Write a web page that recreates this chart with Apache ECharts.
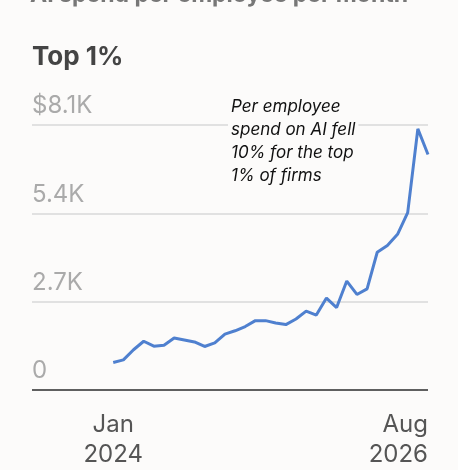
<!DOCTYPE html>
<html><head><meta charset="utf-8">
<script src="https://cdn.jsdelivr.net/npm/echarts@6/dist/echarts.min.js"></script>
<style>html,body{margin:0;padding:0;background:#fcfbfa}#c{width:458px;height:470px}</style>
</head><body><div id="c"></div>
<script>
const months = ['2024-01','2024-02','2024-03','2024-04','2024-05','2024-06','2024-07','2024-08','2024-09','2024-10','2024-11','2024-12',
'2025-01','2025-02','2025-03','2025-04','2025-05','2025-06','2025-07','2025-08','2025-09','2025-10','2025-11','2025-12',
'2026-01','2026-02','2026-03','2026-04','2026-05','2026-06','2026-07','2026-08'];
const spend = [0.84,0.92,1.23,1.49,1.34,1.37,1.59,1.53,1.47,1.33,1.44,1.71,1.81,1.94,2.12,2.12,2.05,2.00,2.17,2.41,2.29,2.81,2.52,3.33,2.92,3.09,4.21,4.42,4.76,5.42,7.98,7.20];
const yTicks = {0:'0',2.7:'2.7K',5.4:'5.4K',8.1:'$8.1K'};
const xTicks = {0:'Jan\n2024',31:'Aug\n2026'};
const font = 'Inter, Liberation Sans, Arial, sans-serif';
const chart = echarts.init(document.getElementById('c'));
chart.setOption({
  backgroundColor:'#fcfbfa',
  animation:false,
  grid:{left:32,right:30,top:125,bottom:66},
  graphic:[
    {type:'text',left:30,top:-16,style:{text:'AI spend per employee per month',font:'bold 23px '+font,fill:'#777'}},
    {type:'text',left:32,top:44,style:{text:'Top 1%',font:'bold 26px '+font,fill:'#444'}},
    {type:'text',left:228,top:95,z:10,style:{text:'Per employee\nspend on AI fell\n10% for the top\n1% of firms',font:'italic 17px '+font,lineHeight:23,fill:'#111',backgroundColor:'#fcfbfa',padding:[0,3,0,3]}}
  ],
  xAxis:{type:'value',min:-8,max:31,
    axisLine:{show:false},axisTick:{show:false},splitLine:{show:false},
    axisLabel:{customValues:[0,31],formatter:v=>xTicks[v]||'',fontFamily:font,fontSize:24,color:'#555',lineHeight:30,margin:20,alignMaxLabel:'right'}},
  yAxis:{type:'value',min:0,max:8.1,interval:2.7,
    axisLine:{show:false},axisTick:{show:false},
    splitLine:{lineStyle:{color:'#d8d8d8',width:1.5}},
    axisLabel:{inside:true,formatter:v=>yTicks[Math.round(v*10)/10]||'',fontFamily:font,fontSize:24,color:'#aaa',verticalAlign:'bottom',margin:0,padding:[0,0,7,0]}},
  series:[
    {type:'line',data:spend.map((v,i)=>[i,v]),showSymbol:false,lineStyle:{color:'#4f80cf',width:3},
     markLine:{silent:true,symbol:'none',label:{show:false},lineStyle:{color:'#333',width:1.5,type:'solid'},data:[{yAxis:0}]}}
  ]
});
</script></body></html>
